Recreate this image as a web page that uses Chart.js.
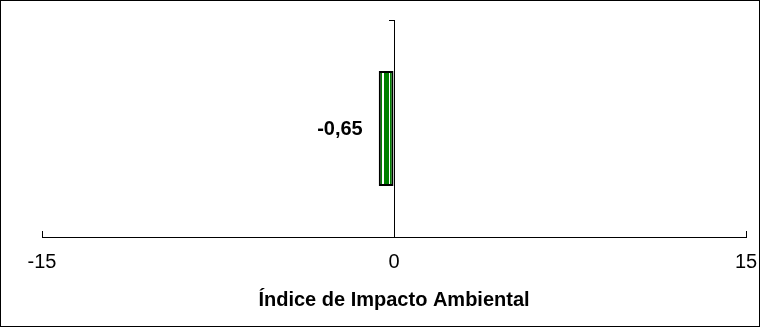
<!DOCTYPE html>
<html>
<head>
<meta charset="utf-8">
<script src="https://cdn.jsdelivr.net/npm/chart.js@4/dist/chart.umd.min.js"></script>
<style>
  body { margin: 0; background: #fff; }
  #wrap { width: 758px; height: 325px; border: 1px solid #000; position: relative; }
</style>
</head>
<body>
<div id="wrap"><canvas id="impactChart"></canvas></div>
<script>
// chart data
const categories = [''];
const values = [-0.65];
const valueLabels = ['-0,65'];
const tickValues = [-15, 0, 15];
const axisTitle = 'Índice de Impacto Ambiental';

const FONT = '"Liberation Sans", Arial, sans-serif';

// vertical green / white stripes inside the bar
function stripeFill(context) {
    const chart = context.chart;
    if (!chart.chartArea || !chart.scales.x) return '#008000';
    const xs = chart.scales.x;
    const a = xs.getPixelForValue(values[context.dataIndex]);
    const b = xs.getPixelForValue(0);
    const g = chart.ctx.createLinearGradient(Math.min(a, b), 0, Math.max(a, b), 0);
    const stops = [
        [0, '#fff'], [0.1, '#008000'], [0.24, '#fff'], [0.34, '#008000'],
        [0.68, '#fff'], [0.77, '#008000'], [0.9, '#fff'], [1, '#fff']
    ];
    for (let i = 0; i < stops.length; i++) {
        const end = i + 1 < stops.length ? stops[i + 1][0] : 1;
        g.addColorStop(stops[i][0], stops[i][1]);
        g.addColorStop(end, stops[i][1]);
    }
    return g;
}

// value label left of the bar
const valueLabelPlugin = {
    id: 'valueLabel',
    afterDatasetsDraw(chart) {
        const ctx = chart.ctx;
        const meta = chart.getDatasetMeta(0);
        ctx.save();
        ctx.font = 'bold 20px ' + FONT;
        ctx.fillStyle = '#000';
        ctx.textAlign = 'right';
        ctx.textBaseline = 'middle';
        meta.data.forEach((bar, i) => {
            ctx.fillText(valueLabels[i], Math.min(bar.x, bar.base) - 16, bar.y + 1);
        });
        ctx.restore();
    }
};

new Chart(document.getElementById('impactChart'), {
    type: 'bar',
    data: {
        labels: categories,
        datasets: [{
            data: values,
            backgroundColor: stripeFill,
            borderColor: '#000',
            borderWidth: 2,
            borderSkipped: false,
            categoryPercentage: 0.53,
            barPercentage: 1
        }]
    },
    options: {
        indexAxis: 'y',
        responsive: true,
        maintainAspectRatio: false,
        animation: false,
        layout: { padding: { left: 41, right: 13, top: 19, bottom: 14 } },
        plugins: {
            legend: { display: false },
            tooltip: { enabled: false }
        },
        scales: {
            x: {
                type: 'linear',
                min: -15,
                max: 15,
                afterBuildTicks: function (scale) {
                    scale.ticks = tickValues.map(v => ({ value: v }));
                },
                afterFit: function (scale) {
                    scale.paddingLeft = 0;
                    scale.paddingRight = 0;
                    scale.height = 75;
                },
                grid: {
                    drawOnChartArea: false,
                    tickLength: -6,
                    color: '#000'
                },
                border: { color: '#000', width: 1 },
                ticks: {
                    padding: 19,
                    color: '#000',
                    font: { family: FONT, size: 20 },
                    maxRotation: 0,
                    callback: v => String(v)
                },
                title: {
                    display: true,
                    text: axisTitle,
                    color: '#000',
                    font: { family: FONT, size: 20, weight: 'bold' },
                    padding: { top: 0, bottom: 0 }
                }
            },
            y: {
                position: { x: 0 },
                grid: {
                    drawOnChartArea: false,
                    offset: true,
                    tickLength: 5,
                    color: '#000'
                },
                border: { color: '#000', width: 1 },
                ticks: { display: false }
            }
        }
    },
    plugins: [valueLabelPlugin]
});
</script>
</body>
</html>
